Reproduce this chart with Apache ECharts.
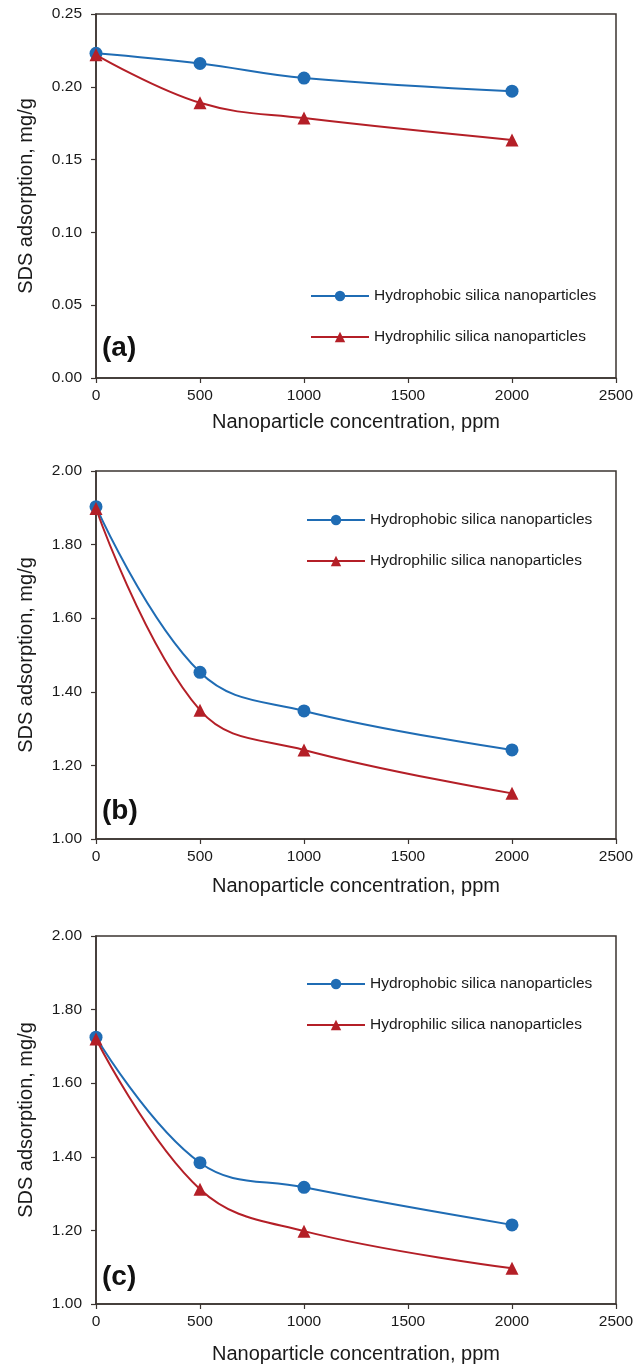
<!DOCTYPE html>
<html>
<head>
<meta charset="utf-8">
<title>SDS adsorption vs nanoparticle concentration</title>
<script src="https://cdn.jsdelivr.net/npm/echarts@6/dist/echarts.min.js"></script>
<style>
  html, body { margin: 0; padding: 0; background: #ffffff; }
  #chart { width: 644px; height: 1367px; }
</style>
</head>
<body>
<div id="chart"></div>
<script>
// Nanoparticle concentration (ppm)
const concentration = [0, 500, 1000, 2000];

// SDS adsorption (mg/g), panel (a)
const hydrophobicA = [0.223, 0.216, 0.206, 0.197];
const hydrophilicA = [0.222, 0.189, 0.1785, 0.1635];

// SDS adsorption (mg/g), panel (b)
const hydrophobicB = [1.903, 1.453, 1.348, 1.242];
const hydrophilicB = [1.898, 1.350, 1.242, 1.124];

// SDS adsorption (mg/g), panel (c)
const hydrophobicC = [1.725, 1.384, 1.317, 1.215];
const hydrophilicC = [1.720, 1.312, 1.198, 1.097];

const panelLabels = ['(a)', '(b)', '(c)'];
const seriesNames = ['Hydrophobic silica nanoparticles', 'Hydrophilic silica nanoparticles'];
const xTitle = 'Nanoparticle concentration, ppm';
const yTitle = 'SDS adsorption, mg/g';

const FONT = '"Liberation Sans", Arial, Helvetica, sans-serif';
const AXIS = '#3b3431';
const TEXT = '#1a1a1a';
const BLUE = '#1f6cb4';
const RED = '#b41f27';

const panels = [
  { top: 14,  height: 364, yMin: 0, yMax: 0.25, yStep: 0.05, nameGap: 34,
    blue: hydrophobicA, red: hydrophilicA, legendTop: 288, legendLeft: 310, labelY: 350 },
  { top: 471, height: 368, yMin: 1, yMax: 2, yStep: 0.2, nameGap: 37,
    blue: hydrophobicB, red: hydrophilicB, legendTop: 512, legendLeft: 306, labelY: 813 },
  { top: 936, height: 368, yMin: 1, yMax: 2, yStep: 0.2, nameGap: 40,
    blue: hydrophobicC, red: hydrophilicC, legendTop: 976, legendLeft: 306, labelY: 1279 }
];

const grid = [], xAxis = [], yAxis = [], series = [], legend = [], graphic = [];

panels.forEach((p, i) => {
  grid.push({
    left: 96, top: p.top, width: 520, height: p.height,
    show: true, borderColor: AXIS, borderWidth: 1.5, backgroundColor: 'transparent'
  });
  xAxis.push({
    gridIndex: i, type: 'value', min: 0, max: 2500, interval: 500,
    name: xTitle, nameLocation: 'middle', nameGap: p.nameGap,
    nameTextStyle: { fontFamily: FONT, fontSize: 20, color: TEXT },
    axisLine: { show: true, onZero: false, lineStyle: { color: AXIS, width: 1.5 } },
    axisTick: { show: true, inside: false, length: 5, lineStyle: { color: AXIS, width: 1.2 } },
    axisLabel: { fontFamily: FONT, fontSize: 15.5, color: TEXT, margin: 10,
                 formatter: v => String(v) },
    splitLine: { show: false }
  });
  yAxis.push({
    gridIndex: i, type: 'value', min: p.yMin, max: p.yMax, interval: p.yStep,
    name: yTitle, nameLocation: 'middle', nameGap: 60, nameRotate: 90,
    nameTextStyle: { fontFamily: FONT, fontSize: 20, color: TEXT },
    axisLine: { show: true, onZero: false, lineStyle: { color: AXIS, width: 1.5 } },
    axisTick: { show: true, inside: false, length: 5, lineStyle: { color: AXIS, width: 1.2 } },
    axisLabel: { fontFamily: FONT, fontSize: 15.5, color: TEXT, margin: 14,
                 formatter: v => v.toFixed(2) },
    splitLine: { show: false }
  });
  series.push({
    name: seriesNames[0], type: 'line', xAxisIndex: i, yAxisIndex: i,
    data: concentration.map((c, k) => [c, p.blue[k]]),
    smooth: 0.4, symbol: 'circle', symbolSize: 13,
    lineStyle: { color: BLUE, width: 2 }, itemStyle: { color: BLUE }, z: 3
  });
  series.push({
    name: seriesNames[1], type: 'line', xAxisIndex: i, yAxisIndex: i,
    data: concentration.map((c, k) => [c, p.red[k]]),
    smooth: 0.4, symbol: 'triangle', symbolSize: 13,
    lineStyle: { color: RED, width: 2 }, itemStyle: { color: RED }, z: 4
  });
  legend.push({
    orient: 'vertical', left: p.legendLeft, top: p.legendTop, padding: 0,
    itemWidth: 58, itemHeight: 13, itemGap: 25,
    textStyle: { fontFamily: FONT, fontSize: 15.5, color: TEXT },
    data: seriesNames, selectedMode: false
  });
  graphic.push({
    type: 'text', left: 102, top: p.labelY - 16,
    style: { text: panelLabels[i], fontFamily: FONT, fontSize: 28, fontWeight: 'bold', fill: '#111111' }
  });
});

const chart = echarts.init(document.getElementById('chart'), null, { renderer: 'canvas' });
chart.setOption({
  animation: false,
  backgroundColor: '#ffffff',
  grid, xAxis, yAxis, series, legend, graphic
});
</script>
</body>
</html>
